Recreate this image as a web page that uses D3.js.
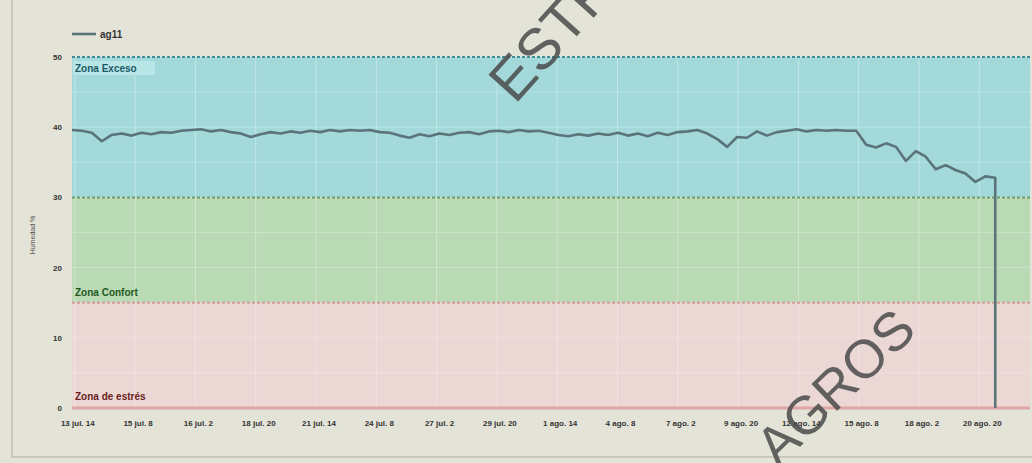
<!DOCTYPE html>
<html>
<head>
<meta charset="utf-8">
<script src="https://cdn.jsdelivr.net/npm/d3@7"></script>
<style>
  body { margin: 0; background: #e4e3d8; font-family: "Liberation Sans", "DejaVu Sans", sans-serif; }
</style>
</head>
<body>
<script>
// humedad cada ~8 h (lectura aproximada del grafico)
const valores = [
  39.6, 39.5, 39.2, 38.0, 38.9, 39.1, 38.8, 39.2, 39.0, 39.3,
  39.2, 39.5, 39.6, 39.7, 39.4, 39.6, 39.3, 39.1, 38.6, 39.0,
  39.3, 39.1, 39.4, 39.2, 39.5, 39.3, 39.6, 39.4, 39.6, 39.5,
  39.6, 39.3, 39.2, 38.8, 38.5, 39.0, 38.7, 39.1, 38.9, 39.2,
  39.3, 39.0, 39.4, 39.5, 39.3, 39.6, 39.4, 39.5, 39.2, 38.9,
  38.7, 39.0, 38.8, 39.1, 38.9, 39.2, 38.8, 39.1, 38.7, 39.2,
  38.9, 39.3, 39.4, 39.6, 39.1, 38.3, 37.2, 38.6, 38.5, 39.4,
  38.8, 39.3, 39.5, 39.7, 39.4, 39.6, 39.5, 39.6, 39.5, 39.5,
  37.5, 37.1, 37.7, 37.2, 35.2, 36.6, 35.8, 34.0, 34.6, 33.9,
  33.4, 32.2, 33.0, 32.8
];
const valorFinal = 0;

const etiquetasX = [
  '13 jul. 14', '15 jul. 8', '16 jul. 2', '18 jul. 20', '21 jul. 14', '24 jul. 8',
  '27 jul. 2', '29 jul. 20', '1 ago. 14', '4 ago. 8', '7 ago. 2', '9 ago. 20',
  '12 ago. 14', '15 ago. 8', '18 ago. 2', '20 ago. 20'
];
const ticksY = [0, 10, 20, 30, 40, 50];

const zonas = [
  { nombre: 'Zona Exceso', desde: 30, hasta: 50 },
  { nombre: 'Zona Confort', desde: 15, hasta: 30 },
  { nombre: 'Zona de estrés', desde: 0, hasta: 15 }
];
const colorZona = ['#a3d9da', '#bad9b5', '#ebd7d4'];
const colorBorde = ['#3f8d96', '#6f9a6c', '#d79a9a'];
const colorTexto = ['#1b5a66', '#1e5a22', '#6a2222'];

const W = 1032, H = 463;
const m = { left: 72, right: 2, top: 57, bottom: 55 };

const svg = d3.select('body').append('svg')
  .attr('width', W)
  .attr('height', H);

// marco del panel
svg.append('rect')
  .attr('x', 12).attr('y', -2)
  .attr('width', W).attr('height', 459)
  .attr('fill', '#e4e3d8')
  .attr('stroke', '#c9c8bc')
  .attr('stroke-width', 2);

const x = d3.scaleLinear()
  .domain([0, 102])
  .range([m.left, W - m.right]);
const y = d3.scaleLinear()
  .domain([0, 50])
  .range([H - m.bottom, m.top]);

// zonas
svg.selectAll('rect.zona')
  .data(zonas)
  .enter()
  .append('rect')
  .attr('class', 'zona')
  .attr('x', x(0))
  .attr('y', d => y(d.hasta))
  .attr('width', x(102) - x(0))
  .attr('height', d => y(d.desde) - y(d.hasta))
  .attr('fill', (d, i) => colorZona[i]);

// rejilla
const xt = d3.range(etiquetasX.length).map(i => 0.3 + i * 6.42);
svg.append('g')
  .selectAll('line')
  .data(xt)
  .enter()
  .append('line')
  .attr('x1', d => x(d)).attr('x2', d => x(d))
  .attr('y1', y(50)).attr('y2', y(0))
  .attr('stroke', '#ffffff')
  .attr('stroke-opacity', 0.35);
svg.append('g')
  .selectAll('line')
  .data(d3.range(0, 51, 5))
  .enter()
  .append('line')
  .attr('x1', x(0)).attr('x2', x(102))
  .attr('y1', d => y(d)).attr('y2', d => y(d))
  .attr('stroke', '#ffffff')
  .attr('stroke-opacity', 0.25);

// bordes de zona
svg.selectAll('line.borde')
  .data(zonas)
  .enter()
  .append('line')
  .attr('x1', x(0)).attr('x2', x(102))
  .attr('y1', d => y(d.hasta)).attr('y2', d => y(d.hasta))
  .attr('stroke', (d, i) => colorBorde[i])
  .attr('stroke-width', 2)
  .attr('stroke-dasharray', '3,2');
svg.append('line')
  .attr('x1', x(0)).attr('x2', x(102))
  .attr('y1', y(0)).attr('y2', y(0))
  .attr('stroke', '#e0a5a5')
  .attr('stroke-width', 3);

// etiquetas de zona
svg.append('rect')
  .attr('x', x(0) + 1).attr('y', y(50) + 4)
  .attr('width', 82).attr('height', 14)
  .attr('fill', '#b8e6e6');
svg.append('text')
  .attr('x', x(0) + 3).attr('y', y(50) + 15)
  .attr('font-size', 10).attr('font-weight', 'bold')
  .attr('fill', colorTexto[0])
  .text(zonas[0].nombre);
svg.append('text')
  .attr('x', x(0) + 3).attr('y', y(15) - 7)
  .attr('font-size', 10).attr('font-weight', 'bold')
  .attr('fill', colorTexto[1])
  .text(zonas[1].nombre);
svg.append('text')
  .attr('x', x(0) + 3).attr('y', y(0) - 8)
  .attr('font-size', 10).attr('font-weight', 'bold')
  .attr('fill', colorTexto[2])
  .text(zonas[2].nombre);

// serie
const ultimo = valores.length - 1;
const xi = d3.scaleLinear().domain([0, ultimo]).range([0, 98.3]);
const puntos = valores.map((v, i) => [xi(i), v]);
puntos.push([xi(ultimo), valorFinal]);
svg.append('path')
  .datum(puntos)
  .attr('fill', 'none')
  .attr('stroke', '#5b7479')
  .attr('stroke-width', 2.6)
  .attr('stroke-linejoin', 'round')
  .attr('d', d3.line().x(d => x(d[0])).y(d => y(d[1])));

// eje Y
svg.append('g')
  .selectAll('text')
  .data(ticksY)
  .enter()
  .append('text')
  .attr('x', 62)
  .attr('y', d => y(d) + 3)
  .attr('text-anchor', 'end')
  .attr('font-size', 8).attr('font-weight', 'bold')
  .attr('fill', '#333')
  .text(d => d);
svg.append('text')
  .attr('transform', 'translate(35,235) rotate(-90)')
  .attr('text-anchor', 'middle')
  .attr('font-size', 7)
  .attr('fill', '#555')
  .text('Humedad %');

// eje X
svg.append('g')
  .selectAll('text')
  .data(etiquetasX)
  .enter()
  .append('text')
  .attr('x', (d, i) => x(xt[i]) + 3)
  .attr('y', 426)
  .attr('text-anchor', 'middle')
  .attr('font-size', 8).attr('font-weight', 'bold')
  .attr('fill', '#333')
  .text(d => d);

// leyenda
svg.append('line')
  .attr('x1', 72).attr('x2', 96)
  .attr('y1', 34).attr('y2', 34)
  .attr('stroke', '#5b7479').attr('stroke-width', 2.6);
svg.append('text')
  .attr('x', 100).attr('y', 38)
  .attr('font-size', 10).attr('font-weight', 'bold')
  .attr('fill', '#333')
  .text('ag11');

// marca de agua
svg.append('text')
  .attr('transform', 'translate(515,105) rotate(-48)')
  .attr('font-size', 58)
  .attr('fill', '#4a4a4a')
  .attr('fill-opacity', 0.85)
  .text('ESTR');
svg.append('text')
  .attr('transform', 'translate(778,468) rotate(-44)')
  .attr('font-size', 54)
  .attr('fill', '#4a4a4a')
  .attr('fill-opacity', 0.85)
  .text('AGROS');
</script>
</body>
</html>
